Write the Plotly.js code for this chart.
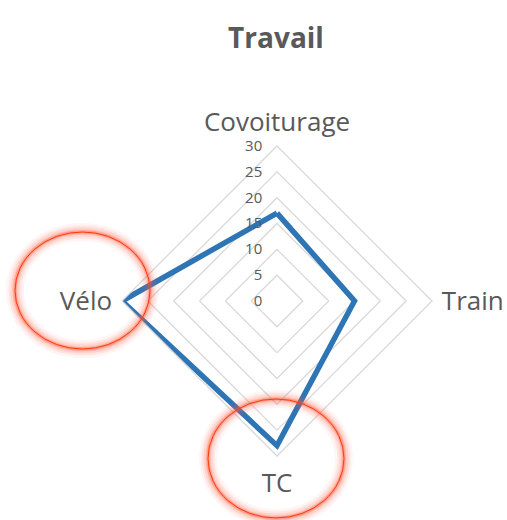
<!DOCTYPE html>
<html>
<head>
<meta charset="utf-8">
<script src="https://cdn.plot.ly/plotly-3.0.1.min.js"></script>
<style>
  html, body { margin: 0; padding: 0; background: #fff; }
  #graph { width: 507px; height: 520px; }
</style>
</head>
<body>
<div id="graph"></div>
<script>
// Travail : répartition par mode de transport
var categories = ['Covoiturage', 'Train', 'TC', 'Vélo'];
var values = [17, 15, 28, 30];
var radialTicks = [0, 5, 10, 15, 20, 25, 30];

var W = 507, H = 520;
var fontFam = '"Open Sans", Lato, sans-serif';

// red highlight ellipses (pixel boxes: x0, y0, x1, y1)
var highlights = [
    [15, 232, 150, 349],   // Vélo
    [208, 399, 344, 518]   // TC
];

function px(x) { return x / W; }
function py(y) { return 1 - y / H; }

var shapes = [];
highlights.forEach(function (b) {
    // soft glow, then thin line on top
    [[18, 0.06], [13, 0.09], [9, 0.13], [5, 0.2], [3, 0.3]].forEach(function (g) {
        shapes.push({
            type: 'circle', xref: 'paper', yref: 'paper', layer: 'above',
            x0: px(b[0]), x1: px(b[2]), y0: py(b[1]), y1: py(b[3]),
            line: {color: 'rgba(255,90,60,' + g[1] + ')', width: g[0]}
        });
    });
    shapes.push({
        type: 'circle', xref: 'paper', yref: 'paper', layer: 'above',
        x0: px(b[0]), x1: px(b[2]), y0: py(b[1]), y1: py(b[3]),
        line: {color: '#FF3A0A', width: 1}
    });
});

var data = [{
    type: 'scatterpolar',
    r: values.concat([values[0]]),
    theta: categories.concat([categories[0]]),
    mode: 'lines',
    line: {color: '#2E75B6', width: 5.5},
    hoverinfo: 'r+theta'
}];

// polar area centred at (277, 301) with radius 155 px
var cx = 277, cy = 301, R = 155;

var layout = {
    width: W, height: H,
    margin: {l: 0, r: 0, t: 0, b: 0},
    paper_bgcolor: '#fff',
    showlegend: false,
    title: {
        text: '<b>Travail</b>',
        x: px(276), xanchor: 'center',
        y: py(38), yanchor: 'middle',
        font: {family: fontFam, size: 28, color: '#595959'}
    },
    polar: {
        domain: {x: [px(cx - R), px(cx + R)], y: [py(cy + R), py(cy - R)]},
        gridshape: 'linear',
        bgcolor: 'rgba(0,0,0,0)',
        radialaxis: {
            range: [0, 30],
            tickvals: radialTicks,
            angle: 90,
            tickangle: 90,
            side: 'counterclockwise',
            showline: false,
            ticks: 'outside',
            ticklen: 9,
            tickcolor: 'rgba(0,0,0,0)',
            gridcolor: '#D9D9D9',
            gridwidth: 1.3,
            tickfont: {family: fontFam, size: 15, color: '#595959'}
        },
        angularaxis: {
            rotation: 90,
            direction: 'clockwise',
            showgrid: false,
            showline: true,
            linecolor: '#D9D9D9',
            linewidth: 1.3,
            ticks: 'outside',
            ticklen: 4,
            tickcolor: 'rgba(0,0,0,0)',
            tickfont: {family: fontFam, size: 26, color: '#595959'}
        }
    },
    shapes: shapes
};

Plotly.newPlot('graph', data, layout, {displayModeBar: false, staticPlot: true});
</script>
</body>
</html>
